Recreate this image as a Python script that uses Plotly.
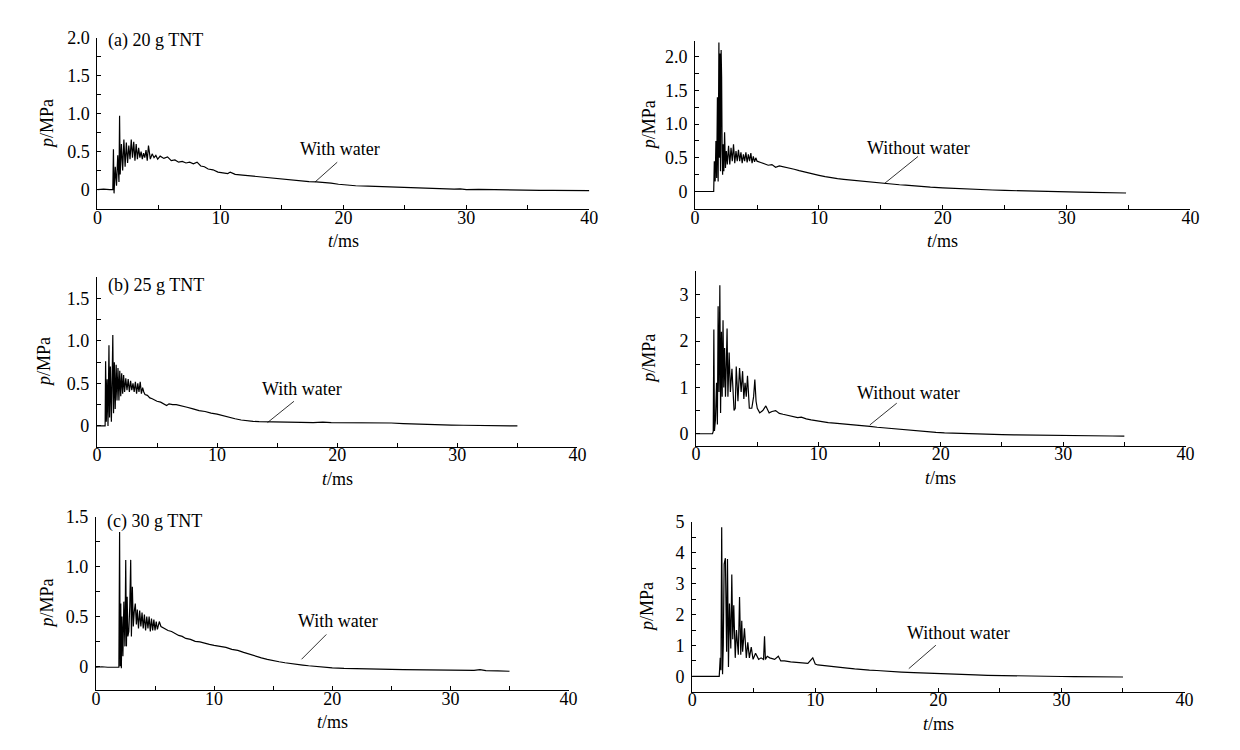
import plotly.graph_objects as go

# ---------------- data ----------------
# (a) 20 g TNT, with water
a1_t = [0, 0.5, 1.0, 1.25, 1.3, 1.35, 1.45, 1.55, 1.65, 1.75, 1.8, 1.85, 1.95, 2.05, 2.15, 2.25,
        2.35, 2.45, 2.55, 2.65, 2.75, 2.85, 2.95, 3.05, 3.15, 3.25, 3.35, 3.45, 3.55, 3.65, 3.75,
        3.85, 3.95, 4.05, 4.15, 4.3, 4.45, 4.6, 4.75, 4.9,
        5.1, 5.4, 5.7, 6.0, 6.3, 6.6, 6.9, 7.2, 7.5, 7.8, 8.1, 8.4, 8.7, 9.0, 9.4, 9.8, 10.2, 10.6,
        10.8, 11.2, 11.8, 12.4, 13.0, 13.6, 14.2, 14.8, 15.4, 16.0, 16.6, 17.2, 17.8, 18.4, 19.0,
        19.6, 20.2, 21, 22, 23, 24, 25, 26, 27, 28, 29, 29.5, 30, 31, 32, 33, 34, 35, 36, 37, 38,
        39, 40]
a1_p = [0, 0.005, 0, 0, 0.53, -0.05, 0.3, 0.05, 0.45, 0.1, 0.97, 0.2, 0.6, 0.25, 0.66, 0.3,
        0.62, 0.35, 0.58, 0.4, 0.66, 0.42, 0.63, 0.38, 0.6, 0.4, 0.55, 0.42, 0.5, 0.4, 0.48,
        0.42, 0.52, 0.38, 0.58, 0.4, 0.47, 0.42, 0.45, 0.40,
        0.44, 0.41, 0.43, 0.38, 0.39, 0.36, 0.37, 0.35, 0.36, 0.34, 0.36, 0.31, 0.3, 0.27, 0.26,
        0.23, 0.22, 0.21, 0.23, 0.2, 0.19, 0.18, 0.17, 0.16, 0.15, 0.14, 0.13, 0.12, 0.11, 0.105,
        0.1, 0.095, 0.085, 0.07, 0.06, 0.05, 0.045, 0.04, 0.03, 0.025, 0.02, 0.012, 0.008, 0.005,
        0.01, 0.0, 0.002, -0.002, 0.0, -0.005, -0.008, -0.01, -0.01, -0.012, -0.014, -0.015]

# (a) 20 g TNT, without water
a2_t = [0, 1.0, 1.5, 1.55, 1.62, 1.68, 1.74, 1.8, 1.86, 1.92, 1.97, 2.0, 2.05, 2.1, 2.14, 2.18,
        2.22, 2.27, 2.32, 2.38, 2.45, 2.52, 2.6, 2.7, 2.8, 2.9, 3.0, 3.1, 3.2, 3.3, 3.4, 3.5, 3.6,
        3.7, 3.8, 3.9, 4.0, 4.1, 4.2, 4.3, 4.4, 4.5, 4.6, 4.7, 4.8, 4.9, 5.0,
        5.3, 5.6, 5.9, 6.2, 6.5, 6.8, 7.1, 7.4, 7.7, 8.0, 8.4, 8.8, 9.2, 9.6, 10.0, 10.5, 11, 11.5,
        12, 12.5, 13, 13.5, 14, 14.5, 15, 15.5, 16, 16.5, 17, 17.5, 18, 19, 20, 21, 22, 23, 24,
        25, 26, 27, 28, 29, 30, 31, 32, 33, 34, 34.8]
a2_p = [0, 0, 0, 0.45, 0.15, 0.75, 0.2, 1.4, 0.15, 2.21, 0.5, 2.05, 0.3, 2.1, 1.7, 0.6,
        0.25, 0.7, 0.3, 0.88, 0.35, 0.6, 0.4, 0.68, 0.4, 0.65, 0.45, 0.7, 0.42, 0.6, 0.45, 0.62,
        0.45, 0.58, 0.42, 0.55, 0.45, 0.58, 0.43, 0.55, 0.45, 0.57, 0.42, 0.52, 0.44, 0.5, 0.45,
        0.43, 0.41, 0.39, 0.4, 0.36, 0.38, 0.37, 0.36, 0.34, 0.33, 0.31, 0.29, 0.28, 0.26, 0.24,
        0.22, 0.2, 0.19, 0.18, 0.17, 0.16, 0.15, 0.145, 0.14, 0.125, 0.12, 0.11, 0.1, 0.095,
        0.085, 0.08, 0.065, 0.055, 0.045, 0.035, 0.03, 0.022, 0.016, 0.01, 0.006, 0.003, 0.0,
        -0.005, -0.01, -0.013, -0.016, -0.02, -0.022]

# (b) 25 g TNT, with water
b1_t = [0, 0.5, 0.68, 0.72, 0.78, 0.85, 0.92, 1.0, 1.05, 1.12, 1.2, 1.27, 1.32, 1.38, 1.45,
        1.52, 1.6, 1.67, 1.75, 1.83, 1.9, 1.98, 2.06, 2.14, 2.22, 2.3, 2.4, 2.5, 2.6, 2.7, 2.8,
        2.9, 3.0, 3.1, 3.2, 3.3, 3.4, 3.5, 3.6, 3.7, 3.8, 3.9, 4.0, 4.2, 4.4, 4.6, 4.8, 5.0,
        5.3, 5.6, 5.8, 6.0, 6.3, 6.6, 7.0, 7.5, 8.0, 8.5, 9.0, 9.5, 10, 10.5, 11, 11.5, 12, 12.5,
        13, 13.5, 14, 15, 16, 17, 18, 18.8, 19.5, 20.5, 21.5, 22.5, 23.5, 24.5, 25.5, 26.5, 27.5,
        28.5, 29.5, 30.5, 31.5, 32.5, 33.5, 35]
b1_p = [0, 0, 0, 0.76, 0.05, 0.55, 0.0, 0.95, 0.1, 0.7, 0.05, 0.6, 1.07, 0.15, 0.75,
        0.2, 0.72, 0.3, 0.68, 0.3, 0.65, 0.35, 0.62, 0.38, 0.6, 0.4, 0.56, 0.42, 0.55, 0.4, 0.53,
        0.42, 0.5, 0.4, 0.52, 0.38, 0.5, 0.4, 0.52, 0.38, 0.45, 0.4, 0.37, 0.36, 0.33, 0.32, 0.3,
        0.29,
        0.28, 0.26, 0.24, 0.26, 0.25, 0.25, 0.24, 0.22, 0.2, 0.18, 0.17, 0.15, 0.14, 0.12, 0.1,
        0.085, 0.07, 0.06, 0.055, 0.05, 0.05, 0.047, 0.045, 0.043, 0.04, 0.045, 0.04, 0.04, 0.04,
        0.038, 0.035, 0.035, 0.028, 0.022, 0.017, 0.012, 0.01, 0.008, 0.006, 0.004, 0.002, 0.0]

# (b) 25 g TNT, without water
b2_t = [0, 1.0, 1.34, 1.4, 1.45, 1.5, 1.58, 1.67, 1.74, 1.8, 1.87, 1.94, 2.0, 2.07, 2.13, 2.2,
        2.26, 2.33, 2.4, 2.47, 2.53, 2.6, 2.7, 2.8, 2.93, 3.1, 3.2, 3.28, 3.42, 3.55, 3.68, 3.8,
        3.9, 4.0, 4.1, 4.2, 4.35, 4.55, 4.7, 4.8, 4.9, 5.0, 5.2, 5.45, 5.7, 5.97, 6.2, 6.5, 6.8,
        7.1, 7.4, 7.7, 8.0,
        8.3, 8.6, 9.0, 9.4, 9.8, 10.3, 10.8, 11.3, 11.8, 12.4, 13, 13.6, 14.2, 14.8, 15.4, 16,
        16.6, 17.2, 17.8, 18.4, 19, 19.6, 20.3, 21, 22, 23, 24, 25, 26, 27, 28, 29, 30, 31, 32,
        33, 34, 35]
b2_p = [0, 0, 0, 0.05, 2.25, 0.06, 0.3, 1.1, 0.2, 2.75, 0.9, 3.2, 0.45, 2.2, 0.8, 2.45,
        1.0, 1.85, 0.8, 1.5, 2.27, 0.8, 1.75, 0.9, 1.4, 0.5, 0.55, 1.45, 0.7, 1.42, 0.9, 1.35,
        0.75, 1.1, 0.8, 1.25, 0.55, 0.55, 0.8, 1.17, 0.7, 0.55, 0.45, 0.5, 0.6, 0.45, 0.48, 0.5,
        0.44, 0.42, 0.4, 0.38, 0.37,
        0.35, 0.36, 0.32, 0.3, 0.28, 0.26, 0.24, 0.23, 0.22, 0.2, 0.18, 0.17, 0.16, 0.14, 0.125,
        0.11, 0.095, 0.08, 0.065, 0.05, 0.04, 0.03, 0.02, 0.012, 0.004, -0.005, -0.012, -0.018,
        -0.022, -0.027, -0.032, -0.036, -0.04, -0.043, -0.045, -0.047, -0.048, -0.05]

# (c) 30 g TNT, with water
c1_t = [0, 0.5, 1.0, 1.5, 1.94, 2.0, 2.05, 2.1, 2.15, 2.2, 2.28, 2.36, 2.45, 2.52, 2.58, 2.64,
        2.7, 2.78, 2.86, 2.94, 3.0, 3.08, 3.16, 3.24, 3.33, 3.42, 3.5, 3.6, 3.7, 3.8, 3.9, 4.0,
        4.1, 4.2, 4.3, 4.4, 4.5, 4.6, 4.7, 4.8, 4.9, 5.0, 5.1, 5.2, 5.36, 5.5,
        5.8, 6.1, 6.4, 6.7, 7.0, 7.3, 7.6, 8.0, 8.4, 8.8, 9.2, 9.6, 10, 10.5, 11, 11.5, 12, 12.5,
        13, 13.5, 14, 14.5, 15, 15.5, 16, 16.5, 17, 17.5, 18, 18.5, 19, 19.5, 20, 21, 22, 23, 24,
        25, 26, 27, 28, 29, 30, 31, 32, 32.5, 33, 34, 35]
c1_p = [-0.01, -0.005, -0.01, -0.008, -0.01, 1.35, 0.0, 0.63, -0.02, 0.5, 0.1, 0.65, 0.2, 1.07,
        0.2, 0.7, 0.3, 0.35, 0.6, 1.07, 0.3, 0.8, 0.4, 0.55, 0.63, 0.42, 0.57, 0.38, 0.56, 0.4,
        0.54, 0.38, 0.52, 0.36, 0.5, 0.38, 0.5, 0.35, 0.48, 0.36, 0.47, 0.36, 0.45, 0.37, 0.45,
        0.4,
        0.38, 0.36, 0.35, 0.33, 0.31, 0.3, 0.28, 0.27, 0.25, 0.245, 0.23, 0.22, 0.21, 0.2, 0.19,
        0.17, 0.16, 0.14, 0.12, 0.1, 0.085, 0.07, 0.055, 0.045, 0.035, 0.025, 0.018, 0.012,
        0.005, -0.002, -0.008, -0.012, -0.016, -0.022, -0.026, -0.028, -0.03, -0.032, -0.034,
        -0.036, -0.038, -0.039, -0.04, -0.041, -0.042, -0.035, -0.044, -0.047, -0.05]

# (c) 30 g TNT, without water
c2_t = [0, 1.0, 2.2, 2.28, 2.34, 2.4, 2.47, 2.53, 2.6, 2.7, 2.8, 2.87, 2.95, 3.03, 3.14, 3.22,
        3.3, 3.38, 3.5, 3.6, 3.75, 3.85, 3.95, 4.03, 4.1, 4.25, 4.4, 4.52, 4.65, 4.8, 4.95, 5.15,
        5.4, 5.6, 5.8, 5.88, 5.95, 6.1, 6.3, 6.7, 7.0, 7.2, 7.5, 8.0, 8.5, 9.0, 9.4, 9.8, 10.0,
        10.2,
        10.8, 11.4, 12, 12.6, 13.2, 13.8, 14.4, 15, 15.6, 16.2, 17, 18, 19, 20, 21, 22, 23, 24,
        25, 26, 27, 28, 29, 30, 31, 31.5, 32, 33, 34, 35]
c2_p = [0, 0, 0, 0.6, 0.2, 4.83, 0.07, 1.0, 3.64, 3.83, 0.8, 3.8, 0.3, 2.36, 0.9, 3.3,
        1.2, 2.3, 0.6, 1.5, 0.7, 2.57, 0.7, 1.8, 0.8, 1.56, 0.6, 1.1, 0.6, 0.95, 0.55, 0.75,
        0.55, 0.6, 0.55, 1.3, 0.55, 0.65, 0.6, 0.55, 0.65, 0.5, 0.5, 0.47, 0.46, 0.45, 0.42, 0.6,
        0.4, 0.37,
        0.35, 0.33, 0.3, 0.27, 0.24, 0.21, 0.2, 0.19, 0.17, 0.16, 0.14, 0.12, 0.1, 0.09, 0.07,
        0.055, 0.045, 0.035, 0.025, 0.018, 0.012, 0.006, 0.0, -0.005, -0.008, -0.01, -0.012,
        -0.015, -0.018, -0.02]

panel_titles = ["(a) 20 g TNT", "", "(b) 25 g TNT", "", "(c) 30 g TNT", ""]
curve_labels = ["With water", "Without water", "With water", "Without water",
                "With water", "Without water"]
# label text position and leader line (start -> tip), in data units
label_t = [19.7, 18.0, 17.1, 17.4, 20.5, 21.6]
label_p = [0.54, 0.65, 0.43, 0.88, 0.46, 1.39]
leader_t0 = [19.5, 18.0, 16.4, 16.4, 19.5, 19.8]
leader_p0 = [0.36, 0.52, 0.29, 0.66, 0.32, 1.01]
leader_t1 = [17.7, 15.3, 14.2, 14.2, 17.4, 17.6]
leader_p1 = [0.10, 0.12, 0.04, 0.19, 0.07, 0.25]

y_ranges = [[-0.26, 2.0], [-0.26, 2.23], [-0.245, 1.75], [-0.26, 3.5], [-0.24, 1.5], [-0.5, 5.0]]
y_ticks = [[0, 0.5, 1.0, 1.5, 2.0], [0, 0.5, 1.0, 1.5, 2.0], [0, 0.5, 1.0, 1.5],
           [0, 1, 2, 3], [0, 0.5, 1.0, 1.5], [0, 1, 2, 3, 4, 5]]
y_ticktext = [["0", "0.5", "1.0", "1.5", "2.0"], ["0", "0.5", "1.0", "1.5", "2.0"],
              ["0", "0.5", "1.0", "1.5"], ["0", "1", "2", "3"],
              ["0", "0.5", "1.0", "1.5"], ["0", "1", "2", "3", "4", "5"]]
y_minor = [0.25, 0.25, 0.25, 0.5, 0.25, 0.5]
x_ticks = [0, 10, 20, 30, 40]

series = [(a1_t, a1_p), (a2_t, a2_p), (b1_t, b1_p), (b2_t, b2_p), (c1_t, c1_p), (c2_t, c2_p)]

# ---------------- layout (pixel boxes of the six panels) ----------------
W, H = 1240, 750
boxes = [  # x0, x1, ytop, ybottom in pixels
    (93.5, 591, 28, 202),
    (698, 1199, 31.7, 201.7),
    (93, 579, 270.7, 442.7),
    (699, 1194, 265, 441.7),
    (92, 570, 514, 689.3),
    (695, 1193, 519, 691),
]
ytitle_shift = [-50, -46, -53, -47, -49, -45]
ptitle_shift = [-3, 0, -8, 0, -4, 0]

FONT = "Liberation Serif, Times New Roman, serif"
fig = go.Figure()
layout = dict(width=W, height=H, autosize=False, margin=dict(l=0, r=0, t=0, b=0),
              paper_bgcolor="white", plot_bgcolor="white", showlegend=False,
              font=dict(family=FONT, size=18, color="black"))
annotations = []
shapes = []

for i, ((t, p), (x0, x1, yt, yb)) in enumerate(zip(series, boxes)):
    n = min(len(t), len(p))
    sfx = "" if i == 0 else str(i + 1)
    xa, ya = "x" + sfx, "y" + sfx
    fig.add_trace(go.Scatter(x=t[:n], y=p[:n], mode="lines", xaxis=xa, yaxis=ya,
                             line=dict(color="black", width=1.2), hoverinfo="skip"))
    lo, hi = y_ranges[i]
    minor_vals = []
    v = 0.0
    while v <= hi + 1e-9:
        minor_vals.append(round(v, 3))
        v += y_minor[i]
    layout["xaxis" + sfx] = dict(
        domain=[x0 / W, x1 / W], anchor=ya, range=[0, 40],
        tickmode="array", tickvals=x_ticks, ticktext=[str(v) for v in x_ticks],
        ticks="inside", ticklen=4, tickwidth=1, tickcolor="black",
        minor=dict(tickvals=[5, 15, 25, 35], ticks="inside", ticklen=4, tickcolor="black"),
        showline=True, linecolor="black", linewidth=1, showgrid=False, zeroline=False,
        tickfont=dict(family=FONT, size=18, color="black"), ticklabelstandoff=-8,
        fixedrange=True)
    layout["yaxis" + sfx] = dict(
        domain=[1 - yb / H, 1 - yt / H], anchor=xa, range=[lo, hi],
        tickmode="array", tickvals=y_ticks[i], ticktext=y_ticktext[i],
        ticks="inside", ticklen=4, tickwidth=1, tickcolor="black",
        minor=dict(tickvals=minor_vals, ticks="inside", ticklen=4, tickcolor="black"),
        showline=True, linecolor="black", linewidth=1, showgrid=False, zeroline=False,
        tickfont=dict(family=FONT, size=18, color="black"), ticklabelstandoff=3,
        fixedrange=True)
    # axis titles
    annotations.append(dict(text="<i>t</i>/ms", xref=xa + " domain", yref=ya + " domain",
                            x=0.5, y=0, yshift=-32, showarrow=False, xanchor="center",
                            yanchor="middle", font=dict(family=FONT, size=18)))
    annotations.append(dict(text="<i>p</i>/MPa", xref=xa + " domain", yref=ya + " domain",
                            x=0, y=0.5, xshift=ytitle_shift[i], showarrow=False,
                            xanchor="center", yanchor="middle", textangle=-90,
                            font=dict(family=FONT, size=18)))
    if panel_titles[i]:
        annotations.append(dict(text=panel_titles[i], xref=xa + " domain", yref=ya + " domain",
                                x=0, y=1, xshift=9, yshift=ptitle_shift[i], showarrow=False,
                                xanchor="left", yanchor="middle",
                                font=dict(family=FONT, size=18)))
    annotations.append(dict(text=curve_labels[i], xref=xa, yref=ya, x=label_t[i],
                            y=label_p[i], showarrow=False, xanchor="center", yanchor="middle",
                            font=dict(family=FONT, size=18)))
    shapes.append(dict(type="line", xref=xa, yref=ya, x0=leader_t0[i], y0=leader_p0[i],
                       x1=leader_t1[i], y1=leader_p1[i], line=dict(color="black", width=0.8)))

layout["annotations"] = annotations
layout["shapes"] = shapes
fig.update_layout(**layout)
fig.write_html("out.html", post_script="document.body.style.margin='0';",
               config={"displayModeBar": False})
